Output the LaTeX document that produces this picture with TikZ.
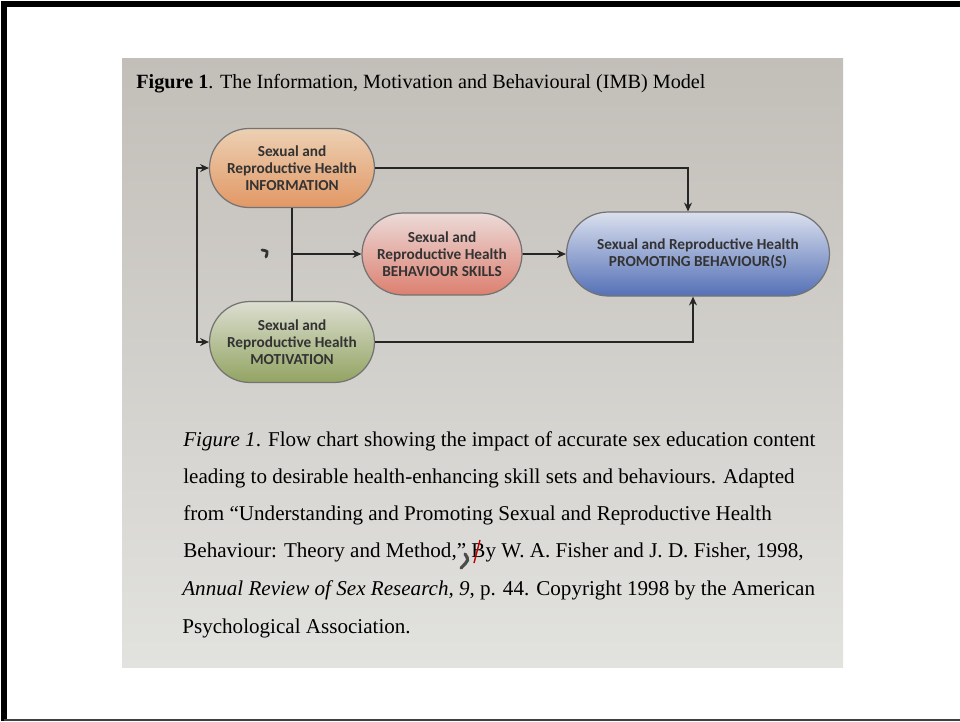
\documentclass[tikz,border=0pt]{standalone}
\usepackage{fontspec}
\setmainfont{Liberation Serif}
\newfontfamily\boxfont{Carlito}
\usetikzlibrary{shapes.misc,arrows.meta}

\definecolor{photoTop}{RGB}{194,190,184}
\definecolor{photoBot}{RGB}{226,226,223}
\definecolor{infoTop}{RGB}{236,208,180}
\definecolor{infoBot}{RGB}{226,152,100}
\definecolor{motivTop}{RGB}{220,222,208}
\definecolor{motivBot}{RGB}{146,164,98}
\definecolor{skillTop}{RGB}{236,218,216}
\definecolor{skillBot}{RGB}{220,128,112}
\definecolor{promoTop}{RGB}{218,224,238}
\definecolor{promoBot}{RGB}{84,112,182}

\begin{document}
\begin{tikzpicture}[x=0.02cm,y=-0.02cm,
	pill/.style={rounded rectangle, draw=black!55, line width=0.7pt,
		font=\boxfont\bfseries\fontsize{8.7}{9.6}\selectfont, text=black!80,
		align=center, minimum height=1.58cm, inner sep=0pt},
	flow/.style={-{Stealth[length=5pt,width=4.5pt]}, line width=0.9pt, black!85},
	joinline/.style={line width=0.9pt, black!85},
	captxt/.style={anchor=base west, inner sep=0pt, font=\fontsize{12}{14}\selectfont}]
	\useasboundingbox (0,0) rectangle (960,721);

	% Frame
	\draw[line width=3pt] (4,721) -- (4,4) -- (960,4);
	\draw[black!75, line width=1.5pt] (4,720) -- (960,720);

	% Photo of the page
	\shade[top color=photoTop, bottom color=photoBot] (122,58) rectangle (843,667);

	% Title
	\node[anchor=base west, inner sep=0pt, font=\fontsize{11.5}{13}\selectfont] (title) at (136,88)
		{\textbf{Figure 1}. The Information, Motivation and Behavioural (IMB) Model};

	% Boxes
	\node[pill, minimum width=3.3cm, top color=infoTop, bottom color=infoBot] (info) at (292,168)
		{Sexual and\\Reproductive Health\\INFORMATION};
	\node[pill, minimum width=3.3cm, minimum height=1.62cm, top color=motivTop, bottom color=motivBot] (motiv) at (292,342)
		{Sexual and\\Reproductive Health\\MOTIVATION};
	\node[pill, minimum width=3.2cm, minimum height=1.64cm, top color=skillTop, bottom color=skillBot] (skills) at (442,254)
		{Sexual and\\Reproductive Health\\BEHAVIOUR SKILLS};
	\node[pill, minimum width=5.26cm, minimum height=1.68cm, top color=promoTop, bottom color=promoBot] (promo) at (698,254)
		{Sexual and Reproductive Health\\PROMOTING BEHAVIOUR(S)};

	% Connectors
	\draw[flow] (info.east) -| ([xshift=-0.2cm]promo.north);
	\draw[flow] (motiv.east) -| ([xshift=-0.1cm]promo.south);
	\draw[joinline] (info.south) -- (motiv.north);
	\coordinate (split) at (info.south |- skills.west);
	\draw[flow] (split) -- (skills.west);
	\draw[flow] (skills) -- (promo);
	\draw[flow, {Stealth[length=5pt,width=4.5pt]}-{Stealth[length=5pt,width=4.5pt]}] (info.west) -- ++(-12,0) |- (motiv.west);

	% Pen mark
	\draw[black!80, line width=1.6pt, line cap=round] (262,250) .. controls (268,251) .. (266,257);

	% Caption
	\node[captxt] (cap1) at (183,446) {\textit{Figure 1}. Flow chart showing the impact of accurate sex education content};
	\node[captxt] (cap2) at (183,483) {leading to desirable health-enhancing skill sets and behaviours. Adapted};
	\node[captxt] (cap3) at (183,520) {from “Understanding and Promoting Sexual and Reproductive Health};
	\node[captxt] (cap4) at (183,557) {Behaviour: Theory and Method,” By W. A. Fisher and J. D. Fisher, 1998,};
	\node[captxt] (cap5) at (182,595) {\textit{Annual Review of Sex Research, 9}, p. 44. Copyright 1998 by the American};
	\node[captxt] (cap6) at (182,633) {Psychological Association.};

	% Hand corrections
	\draw[red!75!black, line width=0.8pt] (474,563) -- (480,540);
	\draw[black!70, line width=1.8pt, line cap=round] (465,554) .. controls (469,560) .. (461,568);

\end{tikzpicture}
\end{document}
